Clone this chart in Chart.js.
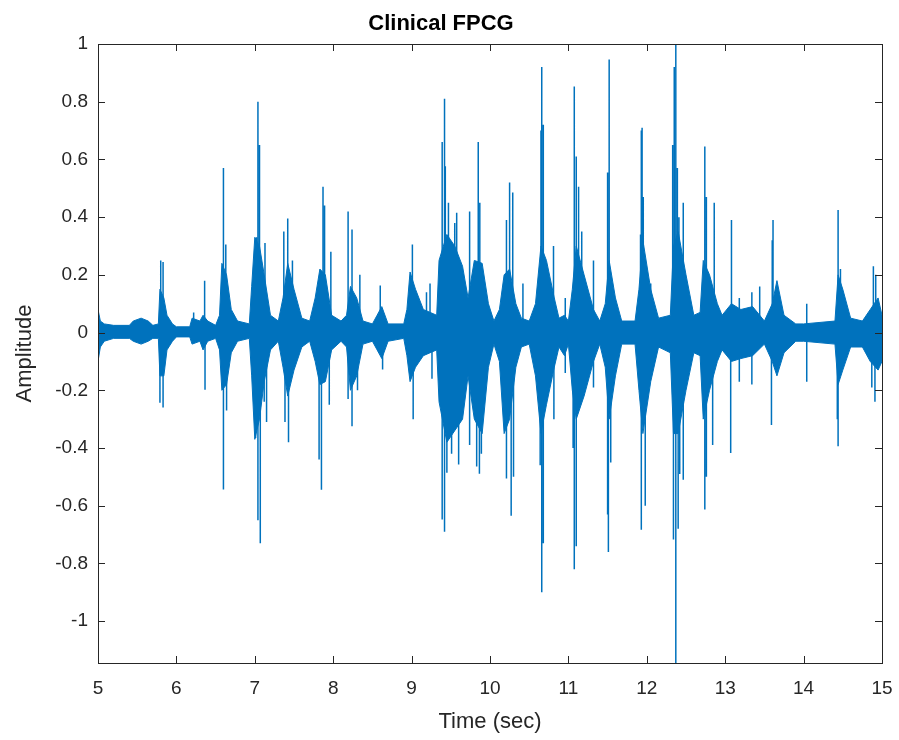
<!DOCTYPE html>
<html lang="en">
<head>
  <meta charset="UTF-8" />
  <title>Clinical FPCG</title>
  <script src="https://cdn.jsdelivr.net/npm/chart.js"></script>
  <style>
    html, body { margin: 0; padding: 0; background: #fff; }
    #wrap { width: 899px; height: 740px; }
  </style>
</head>
<body>
  <div id="wrap"><canvas id="fpcg"></canvas></div>

  <script>
    // body of the signal: upper and lower envelope
    const envT = [5.00, 5.03, 5.08, 5.20, 5.40, 5.45, 5.55, 5.64, 5.70, 5.77, 5.79, 5.84, 5.88, 5.95, 6.00,
      6.17, 6.20, 6.30, 6.34, 6.40, 6.50, 6.55, 6.58, 6.64, 6.70, 6.78, 6.93, 6.96, 7.00, 7.06, 7.12,
      7.20, 7.30, 7.36, 7.42, 7.50, 7.60, 7.70, 7.77, 7.83, 7.90, 7.98, 8.10, 8.17, 8.22, 8.30, 8.38,
      8.50, 8.56, 8.62, 8.70, 8.90, 8.94, 8.98, 9.05, 9.15, 9.32, 9.35, 9.45, 9.55, 9.65, 9.72, 9.80,
      9.90, 9.98, 10.05, 10.12, 10.18, 10.25, 10.33, 10.40, 10.50, 10.58, 10.65, 10.72, 10.82, 10.88,
      10.95, 11.00, 11.05, 11.10, 11.20, 11.32, 11.40, 11.47, 11.52, 11.60, 11.68, 11.85, 11.90, 11.95,
      12.05, 12.15, 12.30, 12.34, 12.40, 12.50, 12.60, 12.68, 12.72, 12.80, 12.90, 12.96, 13.08, 13.20,
      13.35, 13.50, 13.60, 13.66, 13.75, 13.90, 14.00, 14.40, 14.44, 14.50, 14.60, 14.75, 14.85, 14.95, 15.00];
    const envHi = [0.08, 0.04, 0.03, 0.025, 0.025, 0.04, 0.05, 0.04, 0.025, 0.03, 0.15, 0.12, 0.06, 0.03, 0.02,
      0.02, 0.05, 0.04, 0.06, 0.04, 0.025, 0.06, 0.24, 0.20, 0.08, 0.04, 0.03, 0.16, 0.33, 0.30, 0.20,
      0.06, 0.04, 0.12, 0.24, 0.15, 0.05, 0.04, 0.12, 0.22, 0.20, 0.06, 0.04, 0.06, 0.16, 0.12, 0.04,
      0.03, 0.06, 0.09, 0.03, 0.03, 0.08, 0.21, 0.15, 0.08, 0.06, 0.25, 0.34, 0.30, 0.23, 0.12, 0.25,
      0.24, 0.10, 0.04, 0.08, 0.20, 0.22, 0.10, 0.05, 0.04, 0.10, 0.30, 0.25, 0.12, 0.05,
      0.06, 0.04, 0.15, 0.30, 0.20, 0.08, 0.04, 0.10, 0.25, 0.12, 0.04, 0.04, 0.15, 0.32,
      0.15, 0.05, 0.06, 0.30, 0.35, 0.20, 0.06, 0.07, 0.25, 0.20, 0.10, 0.06, 0.10, 0.08,
      0.09, 0.04, 0.10, 0.18, 0.06, 0.03, 0.03, 0.04, 0.20, 0.15, 0.05, 0.04, 0.08, 0.12, 0.06];
    const envLo = [-0.10, -0.05, -0.03, -0.02, -0.02, -0.03, -0.04, -0.03, -0.02, -0.02, -0.15, -0.15, -0.06, -0.03, -0.015,
      -0.015, -0.04, -0.03, -0.06, -0.03, -0.02, -0.06, -0.20, -0.18, -0.07, -0.03, -0.02, -0.15, -0.37, -0.30, -0.17,
      -0.06, -0.03, -0.12, -0.22, -0.13, -0.05, -0.03, -0.10, -0.18, -0.17, -0.06, -0.03, -0.05, -0.20, -0.15, -0.04,
      -0.03, -0.06, -0.09, -0.03, -0.02, -0.08, -0.17, -0.12, -0.08, -0.06, -0.24, -0.38, -0.34, -0.30, -0.15, -0.30,
      -0.35, -0.12, -0.04, -0.10, -0.35, -0.30, -0.12, -0.05, -0.04, -0.15, -0.35, -0.25, -0.12, -0.05,
      -0.08, -0.04, -0.20, -0.30, -0.22, -0.10, -0.04, -0.12, -0.30, -0.15, -0.04, -0.04, -0.20, -0.35,
      -0.17, -0.05, -0.07, -0.35, -0.35, -0.20, -0.07, -0.08, -0.30, -0.20, -0.10, -0.06, -0.10, -0.09,
      -0.08, -0.04, -0.10, -0.15, -0.07, -0.03, -0.03, -0.04, -0.18, -0.13, -0.05, -0.05, -0.10, -0.13, -0.10];

    // individual spikes (time, peak amplitude); each one is drawn from 0 to the peak
    const spikeT = [5.79, 5.80, 5.83, 5.83, 6.22, 6.36, 6.365, 6.60, 6.60, 6.63, 6.64,
      7.01, 7.02, 7.04, 7.04, 7.06, 7.07, 7.12, 7.13, 7.15, 7.37, 7.385, 7.42, 7.43, 7.48,
      7.82, 7.85, 7.87, 7.89, 7.95, 7.97, 8.19, 8.19, 8.24, 8.24, 8.31, 8.34, 8.60, 8.63,
      9.01, 9.02, 9.19, 9.235, 9.26, 9.39, 9.39, 9.42, 9.42, 9.43, 9.45, 9.47, 9.51, 9.55, 9.575, 9.60,
      9.74, 9.74, 9.83, 9.85, 9.865, 9.87, 9.89, 10.21, 10.21, 10.25, 10.27, 10.29, 10.30, 10.42,
      10.64, 10.65, 10.66, 10.66, 10.68, 10.68, 10.81, 10.815, 10.96, 10.96,
      11.06, 11.075, 11.075, 11.10, 11.10, 11.13, 11.17, 11.32, 11.32, 11.50, 11.50, 11.51, 11.52, 11.54,
      11.92, 11.93, 11.93, 11.94, 11.955, 11.98, 12.05, 12.33, 12.34, 12.35, 12.37, 12.37, 12.39, 12.40,
      12.41, 12.42, 12.465, 12.465, 12.74, 12.74, 12.76, 12.76, 12.84, 12.86, 13.07, 13.08,
      13.18, 13.18, 13.34, 13.34, 13.44, 13.59, 13.60, 13.61, 14.04, 14.04, 14.43, 14.44, 14.44, 14.47,
      14.87, 14.89, 14.91, 14.92];
    const spikeV = [-0.243, 0.25, 0.245, -0.26, 0.07, 0.18, -0.198, 0.57, -0.544, 0.305, -0.27,
      -0.365, 0.33, 0.80, -0.65, 0.65, -0.73, -0.24, 0.31, -0.31, 0.35, -0.31, 0.395, -0.38, 0.25,
      -0.44, -0.545, 0.505, 0.44, -0.25, 0.28, 0.42, -0.23, 0.357, -0.325, -0.2, 0.2, 0.163, -0.128,
      0.305, -0.3, 0.14, 0.17, -0.16, 0.66, -0.648, 0.81, -0.69, 0.576, -0.486, 0.45, -0.42, 0.38, 0.415, -0.457,
      0.42, -0.39, -0.464, 0.66, -0.489, 0.45, -0.42, 0.39, -0.506, 0.52, -0.635, 0.485, -0.5, 0.17,
      -0.46, 0.7, 0.92, -0.9, 0.72, -0.73, 0.3, -0.3, 0.12, -0.14,
      -0.4, 0.853, -0.82, 0.61, -0.74, 0.505, 0.35, 0.25, -0.19, 0.555, -0.63, -0.76, 0.946, -0.45,
      0.34, 0.70, -0.683, 0.71, 0.47, -0.6, 0.17, 0.65, -0.717, 0.92, 1.1, -1.2, 0.57, -0.68,
      0.4, -0.49, 0.45, -0.51, 0.645, -0.613, 0.47, -0.5, -0.39, 0.45, -0.417, 0.39,
      0.12, -0.17, 0.14, -0.18, 0.16, -0.32, 0.32, 0.39, 0.1, -0.17, -0.3, 0.425, -0.394, 0.22,
      -0.19, 0.23, -0.24, 0.2];

    const xTicks = [5, 6, 7, 8, 9, 10, 11, 12, 13, 14, 15];
    const yTicks = [-1, -0.8, -0.6, -0.4, -0.2, 0, 0.2, 0.4, 0.6, 0.8, 1];

    const blue = '#0072BD';
    const axisCol = '#262626';
    const fam = 'Liberation Sans, Arial, sans-serif';

    const hiPts = envT.map((t, i) => ({ x: t, y: envHi[i] }));
    const loPts = envT.map((t, i) => ({ x: t, y: envLo[i] }));
    const spikePts = [];
    spikeT.forEach((t, i) => {
      spikePts.push({ x: t, y: 0 }, { x: t, y: spikeV[i] }, { x: t, y: null });
    });

    // MATLAB style box with inward ticks
    const boxPlugin = {
      id: 'box',
      afterDraw(chart) {
        const { ctx, chartArea: a, scales: { x, y } } = chart;
        ctx.save();
        ctx.strokeStyle = axisCol;
        ctx.lineWidth = 1;
        ctx.strokeRect(a.left + 0.5, a.top + 0.5, a.right - a.left, a.bottom - a.top);
        ctx.beginPath();
        const len = 7;
        xTicks.forEach(v => {
          const px = Math.round(x.getPixelForValue(v)) + 0.5;
          ctx.moveTo(px, a.bottom); ctx.lineTo(px, a.bottom - len);
          ctx.moveTo(px, a.top); ctx.lineTo(px, a.top + len);
        });
        yTicks.forEach(v => {
          const py = Math.round(y.getPixelForValue(v)) + 0.5;
          ctx.moveTo(a.left, py); ctx.lineTo(a.left + len, py);
          ctx.moveTo(a.right, py); ctx.lineTo(a.right - len, py);
        });
        ctx.stroke();
        ctx.restore();
      }
    };

    new Chart(document.getElementById('fpcg'), {
      type: 'line',
      data: {
        datasets: [
          { data: loPts, borderColor: blue, borderWidth: 1, pointRadius: 0, fill: false },
          { data: hiPts, borderColor: blue, backgroundColor: blue, borderWidth: 1, pointRadius: 0, fill: '-1' },
          { data: spikePts, borderColor: blue, borderWidth: 1.5, pointRadius: 0, fill: false, spanGaps: false }
        ]
      },
      options: {
        responsive: true,
        maintainAspectRatio: false,
        animation: false,
        layout: { padding: { left: 0, right: 17, top: 0, bottom: 0 } },
        plugins: {
          legend: { display: false },
          tooltip: { enabled: false },
          title: {
            display: true,
            text: 'Clinical FPCG',
            color: '#000',
            font: { family: fam, size: 22, weight: 'bold' },
            padding: { top: 11, bottom: 6.6 }
          }
        },
        scales: {
          x: {
            type: 'linear',
            min: 5, max: 15,
            afterBuildTicks: s => { s.ticks = xTicks.map(v => ({ value: v })); },
            afterFit: s => { s.height = 77; s.paddingLeft = 0; s.paddingRight = 0; },
            grid: { display: false, drawTicks: false },
            border: { display: false },
            ticks: {
              color: axisCol, padding: 14,
              font: { family: fam, size: 19 },
              maxRotation: 0
            },
            title: {
              display: true, text: 'Time (sec)', color: axisCol,
              font: { family: fam, size: 22 },
              padding: { top: 0, bottom: 5 }
            }
          },
          y: {
            min: -1.145, max: 1,
            afterBuildTicks: s => { s.ticks = yTicks.map(v => ({ value: v })); },
            afterFit: s => { s.width = 98; s.paddingTop = 0; s.paddingBottom = 0; },
            grid: { display: false, drawTicks: false },
            border: { display: false },
            ticks: {
              color: axisCol, padding: 10,
              font: { family: fam, size: 19 },
              callback: v => String(Number(v.toFixed(1)))
            },
            title: {
              display: true, text: 'Amplitude', color: axisCol,
              font: { family: fam, size: 22 },
              padding: { top: 12, bottom: 0 }
            }
          }
        }
      },
      plugins: [boxPlugin]
    });
  </script>
</body>
</html>
